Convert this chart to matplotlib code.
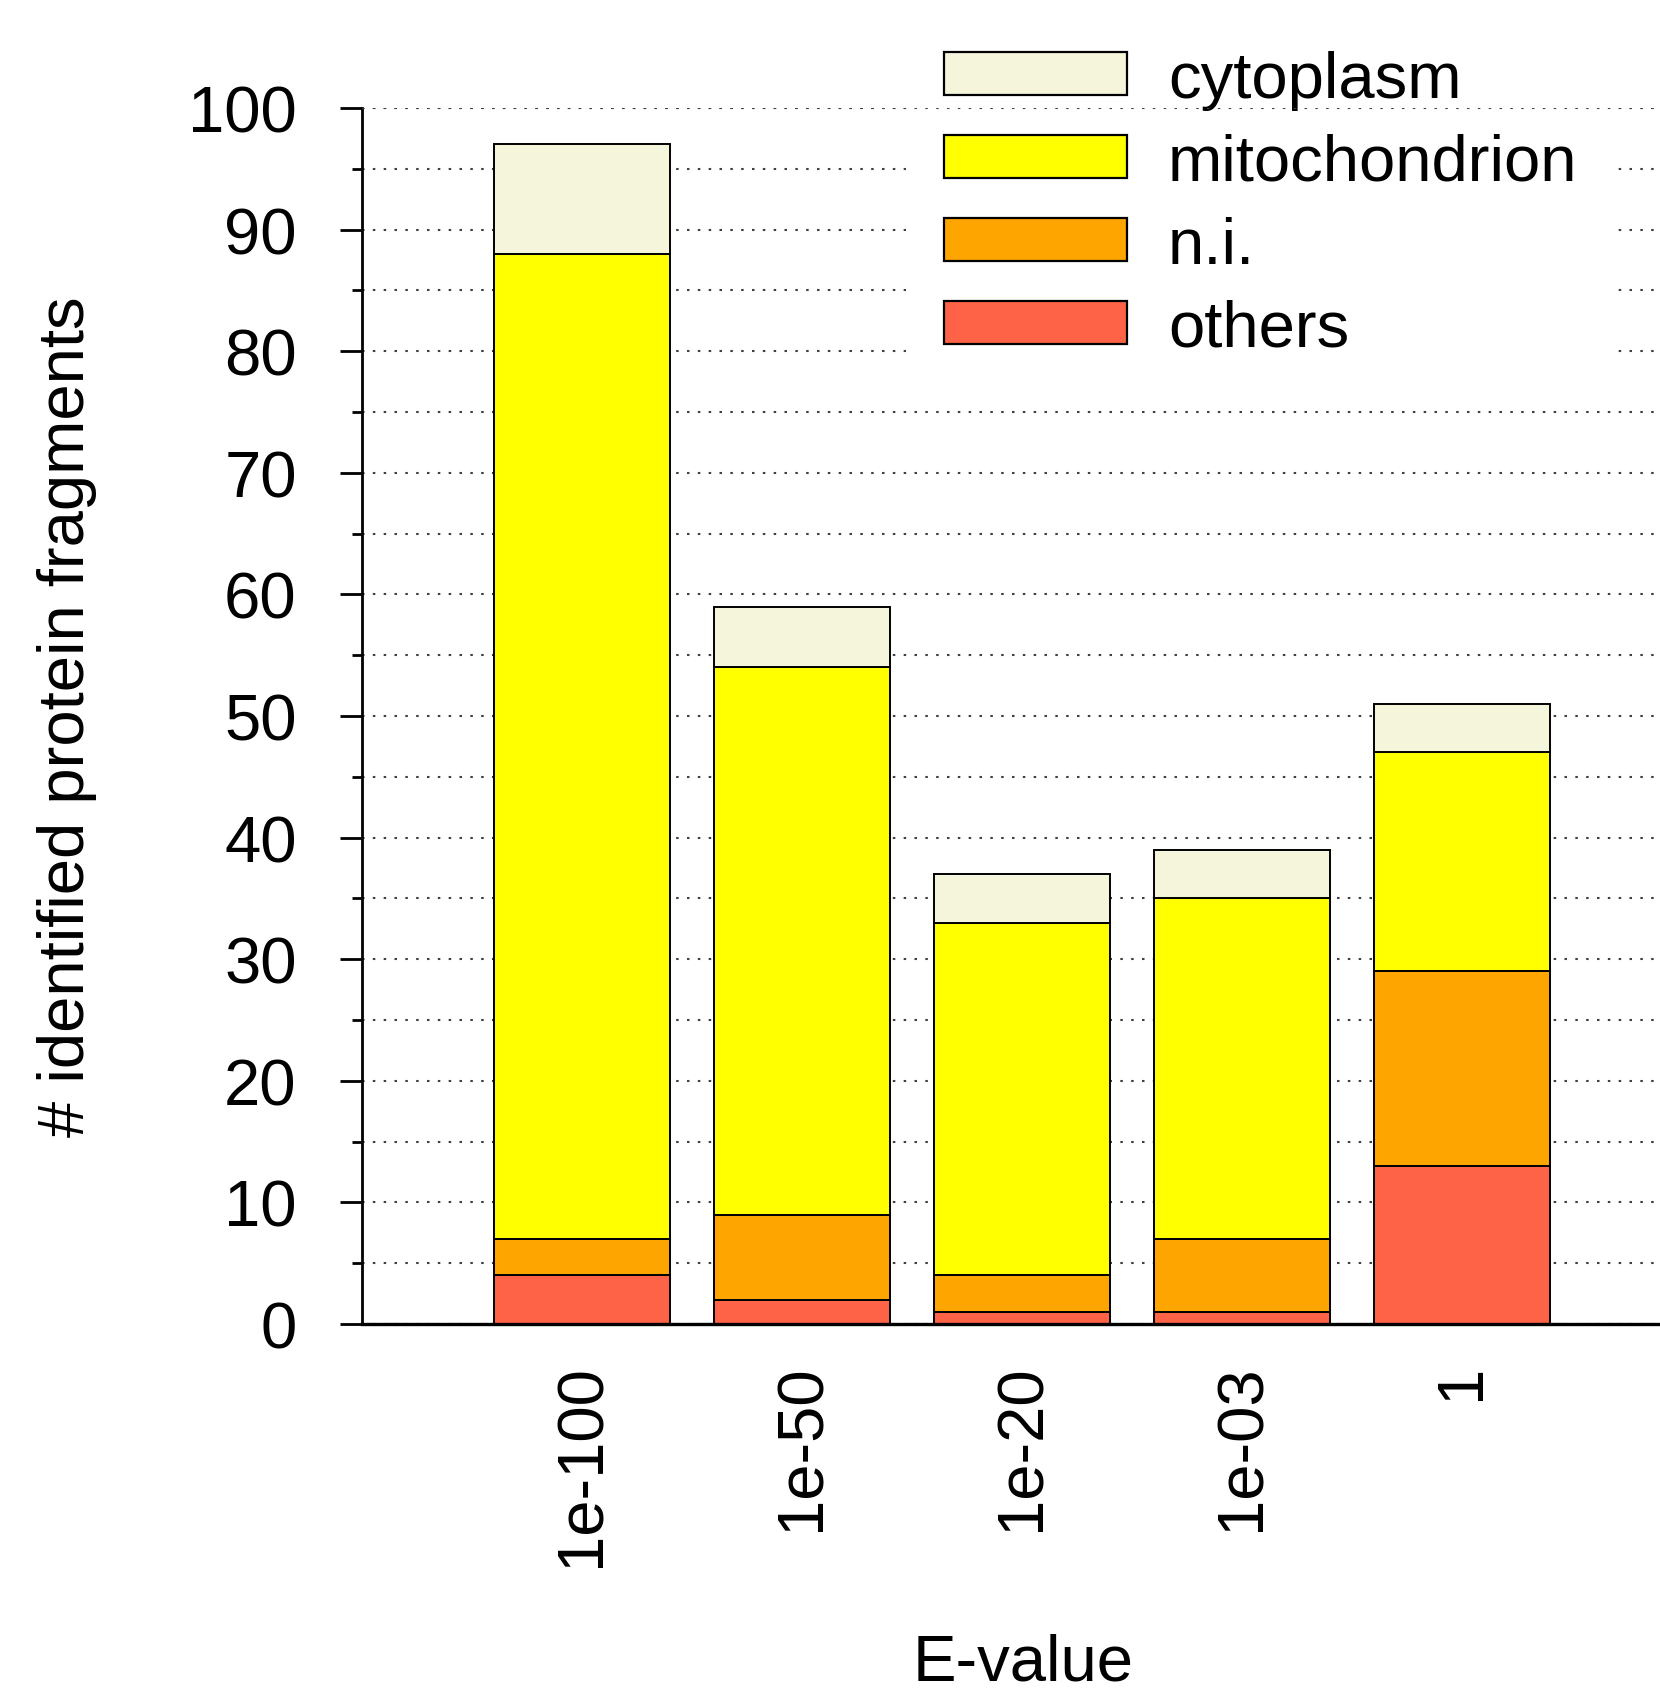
import matplotlib
matplotlib.use("Agg")
from matplotlib import pyplot as plt
from matplotlib.patches import Patch

plt.rcParams['font.family'] = ['Liberation Sans', 'DejaVu Sans']

categories = ["1e-100", "1e-50", "1e-20", "1e-03", "1"]
others = [4, 2, 1, 1, 13]
ni = [3, 7, 3, 6, 16]
mito = [81, 45, 29, 28, 18]
cyto = [9, 5, 4, 4, 4]

series_names = ["others", "n.i.", "mitochondrion", "cytoplasm"]
series_colors = ["#FF6347", "#FFA500", "#FFFF00", "#F5F5DC"]
series = [others, ni, mito, cyto]

fs = 47
grid_style = dict(color="0.25", linestyle=(0, (1.2, 4.0)), linewidth=1.5)

fig = plt.figure(figsize=(16.6, 16.99), dpi=100)
ax = fig.add_axes([362 / 1660, 1 - 1325 / 1699, 1 - 362 / 1660, (1325 - 109) / 1699])

xs = range(1, len(categories) + 1)
bottom = [0] * len(categories)
for vals, name, col in zip(series, series_names, series_colors):
    ax.bar(xs, vals, width=0.8, bottom=bottom, color=col, edgecolor="black",
           linewidth=1.4, label=name, zorder=2)
    bottom = [b + v for b, v in zip(bottom, vals)]

ax.set_xlim(0, 5.9)
ax.set_ylim(0, 100)
ax.set_yticks(range(0, 101, 10))
ax.set_yticks(range(5, 100, 10), minor=True)
ax.set_xticks(list(xs))
ax.set_xticklabels(categories, rotation=90, fontsize=fs, va="top", ha="center")
ax.tick_params(axis="x", length=0, pad=28)
ax.tick_params(axis="y", which="major", length=16, width=2, pad=31, labelsize=fs)
ax.tick_params(axis="y", which="minor", length=7.5, width=2)

for s in ["top", "right"]:
    ax.spines[s].set_visible(False)
ax.spines["left"].set_linewidth(2)
ax.spines["bottom"].set_linewidth(2.4)

ax.set_axisbelow(True)
ax.grid(axis="y", which="both", **grid_style)

handles = [Patch(facecolor=c, edgecolor="black", linewidth=1.6, label=n)
           for n, c in zip(series_names[::-1], series_colors[::-1])]
leg = ax.legend(handles=handles, loc="upper left",
                bbox_to_anchor=(906 / 1660, 1 - 13 / 1699), bbox_transform=fig.transFigure,
                fontsize=fs, frameon=True, fancybox=False, framealpha=1,
                facecolor="white", edgecolor="none", borderpad=0.58,
                handlelength=2.8, handleheight=0.64, handletextpad=0.63,
                labelspacing=0.35, borderaxespad=0)

ax.axhline(100, zorder=6, **grid_style)

fig.text(67 / 1660, 1 - 717 / 1699, "# identified protein fragments", rotation=90,
         ha="center", va="center", fontsize=fs)
fig.text(1023 / 1660, 1 - 1681 / 1699, "E-value", ha="center", va="baseline", fontsize=fs)

fig.savefig("out.png", dpi=100)
